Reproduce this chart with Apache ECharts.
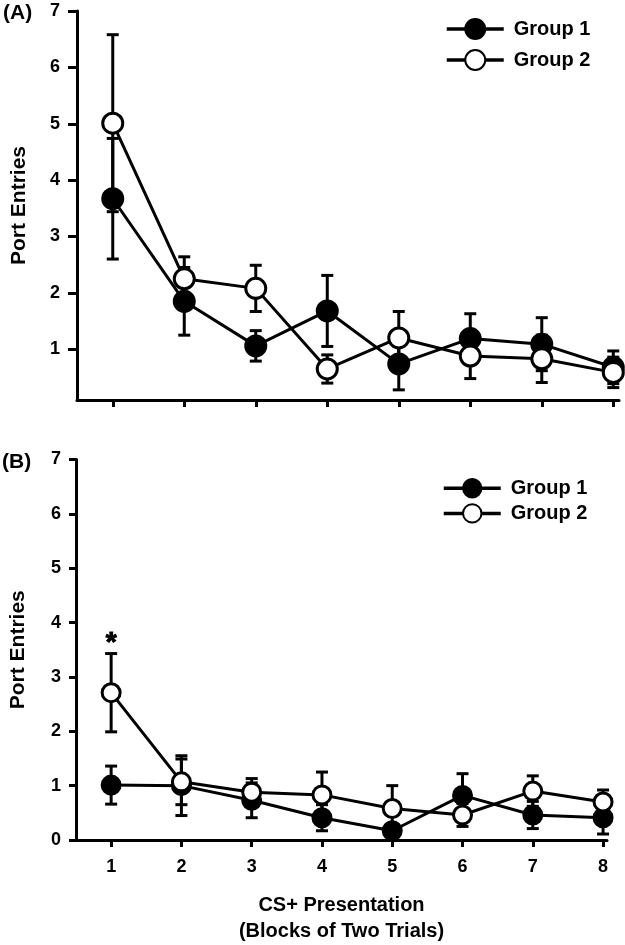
<!DOCTYPE html>
<html>
<head>
<meta charset="utf-8">
<script src="https://cdn.jsdelivr.net/npm/echarts@6/dist/echarts.min.js"></script>
<style>
html,body{margin:0;padding:0;background:#fff;}
#chart{width:625px;height:945px;}
</style>
</head>
<body>
<div id="chart"></div>
<script>
// ---------- data ----------
const categories = [1, 2, 3, 4, 5, 6, 7, 8];
const yTicksA = [1, 2, 3, 4, 5, 6, 7];
const yTicksB = [0, 1, 2, 3, 4, 5, 6, 7];
const seriesNames = ['Group 1', 'Group 2'];

// Panel A
const a_g1 = [3.67, 1.85, 1.06, 1.68, 0.74, 1.19, 1.09, 0.68];
const a_g1_err = [1.07, 0.60, 0.27, 0.63, 0.46, 0.44, 0.47, 0.29];
const a_g2 = [5.01, 2.25, 2.08, 0.65, 1.20, 0.88, 0.83, 0.59];
const a_g2_err = [1.57, 0.39, 0.41, 0.25, 0.47, 0.40, 0.42, 0.27];

// Panel B
const b_g1 = [1.01, 1.00, 0.73, 0.41, 0.17, 0.82, 0.46, 0.41];
const b_g1_err = [0.35, 0.55, 0.32, 0.24, 0.12, 0.40, 0.25, 0.30];
const b_g2 = [2.71, 1.07, 0.88, 0.83, 0.58, 0.46, 0.90, 0.70];
const b_g2_err = [0.72, 0.42, 0.25, 0.42, 0.42, 0.21, 0.28, 0.22];

// significance annotation (panel B): [category, value, text]
const annotationsB = [[1, 3.83, '*']];

// ---------- chart ----------
const FONT = 'Liberation Sans';
const chart = echarts.init(document.getElementById('chart'), null, {renderer: 'canvas'});

function pairs(vals) { return vals.map((v, i) => [categories[i], v]); }
function errData(vals, errs) { return vals.map((v, i) => [categories[i], v, errs[i]]); }

function renderErr(params, api) {
  const x = api.value(0), y = api.value(1), e = api.value(2);
  const hi = api.coord([x, y + e]);
  const lo = api.coord([x, y - e]);
  const w = 6;
  const st = {stroke: '#000', lineWidth: 3};
  return {
    type: 'group',
    children: [
      {type: 'line', shape: {x1: hi[0], y1: hi[1], x2: lo[0], y2: lo[1]}, style: st},
      {type: 'line', shape: {x1: hi[0] - w, y1: hi[1], x2: hi[0] + w, y2: hi[1]}, style: st},
      {type: 'line', shape: {x1: lo[0] - w, y1: lo[1], x2: lo[0] + w, y2: lo[1]}, style: st}
    ]
  };
}

const axisLineStyle = {lineStyle: {color: '#000', width: 3}};
const labelFont = {color: '#000', fontFamily: FONT, fontWeight: 'bold', fontSize: 18};

function errSeries(vals, errs, idx) {
  return {
    type: 'custom', xAxisIndex: idx, yAxisIndex: idx,
    data: errData(vals, errs), renderItem: renderErr, z: 1, clip: false,
    silent: true, legendHoverLink: false
  };
}
function lineSeries(name, vals, idx, filled, size) {
  return {
    name: name, type: 'line', xAxisIndex: idx, yAxisIndex: idx,
    data: pairs(vals), symbol: 'circle', symbolSize: size, clip: false,
    lineStyle: {color: '#000', width: 3},
    itemStyle: {color: filled ? '#000' : '#fff', borderColor: '#000', borderWidth: 3},
    z: filled ? 2 : 3, animation: false
  };
}

const legendText = {color: '#000', fontFamily: FONT, fontWeight: 'bold', fontSize: 20, padding: [0, 0, 0, 5]};

const option = {
  animation: false,
  backgroundColor: '#fff',
  textStyle: {fontFamily: FONT},
  graphic: [
    {type: 'text', left: 3, top: 3, style: {text: '(A)', font: 'bold 21px "Liberation Sans"', fill: '#000'}},
    {type: 'text', left: 2, top: 452, style: {text: '(B)', font: 'bold 21px "Liberation Sans"', fill: '#000'}}
  ],
  legend: [
    {
      data: seriesNames.map(n => ({name: n})), orient: 'vertical', left: 440, top: 13,
      itemWidth: 57, itemHeight: 25, itemGap: 9,
      lineStyle: {color: '#000', width: 3.5},
      textStyle: legendText, selectedMode: false
    },
    {
      data: seriesNames.map(n => ({name: n})), orient: 'vertical', left: 437, top: 473,
      itemWidth: 57, itemHeight: 23, itemGap: 4.8,
      lineStyle: {color: '#000', width: 3.5},
      textStyle: legendText, selectedMode: false
    }
  ],
  grid: [
    {left: 77, right: 6, top: 11, bottom: 545, containLabel: false},
    {left: 67, right: 18, top: 459.5, bottom: 97, containLabel: false}
  ],
  xAxis: [
    {
      gridIndex: 0, type: 'value', min: 0.5, max: 8.08,
      axisLine: axisLineStyle,
      axisTick: {show: true, length: 7, lineStyle: {color: '#000', width: 3}, customValues: categories},
      axisLabel: {show: false, customValues: categories},
      splitLine: {show: false}
    },
    {
      gridIndex: 1, type: 'value', min: 0.5, max: 8.056,
      axisLine: axisLineStyle,
      axisTick: {show: true, length: 7, lineStyle: {color: '#000', width: 3}, customValues: categories},
      axisLabel: Object.assign({margin: 18, customValues: categories,
        formatter: v => String(categories[categories.indexOf(Math.round(v))])}, labelFont),
      splitLine: {show: false},
      name: 'CS+ Presentation\n(Blocks of Two Trials)', nameLocation: 'middle', nameGap: 52,
      nameTextStyle: {color: '#000', fontFamily: FONT, fontWeight: 'bold', fontSize: 20, lineHeight: 26, verticalAlign: 'top'}
    }
  ],
  yAxis: [
    {
      gridIndex: 0, type: 'value', min: 0.1, max: 7,
      axisLine: axisLineStyle,
      axisTick: {show: true, length: 9, lineStyle: {color: '#000', width: 3}, customValues: yTicksA},
      axisLabel: Object.assign({margin: 17, customValues: yTicksA}, labelFont),
      splitLine: {show: false},
      name: 'Port Entries', nameLocation: 'middle', nameGap: 47, nameRotate: 90,
      nameTextStyle: {color: '#000', fontFamily: FONT, fontWeight: 'bold', fontSize: 21}
    },
    {
      gridIndex: 1, type: 'value', min: 0, max: 7,
      axisLine: axisLineStyle,
      axisTick: {show: true, length: 7, lineStyle: {color: '#000', width: 3}, customValues: yTicksB},
      axisLabel: Object.assign({margin: 15, customValues: yTicksB}, labelFont),
      splitLine: {show: false},
      name: 'Port Entries', nameLocation: 'middle', nameGap: 47, nameRotate: 90,
      nameTextStyle: {color: '#000', fontFamily: FONT, fontWeight: 'bold', fontSize: 21}
    }
  ],
  series: [
    errSeries(a_g1, a_g1_err, 0),
    errSeries(a_g2, a_g2_err, 0),
    lineSeries(seriesNames[0], a_g1, 0, true, 20),
    lineSeries(seriesNames[1], a_g2, 0, false, 20),
    errSeries(b_g1, b_g1_err, 1),
    errSeries(b_g2, b_g2_err, 1),
    lineSeries(seriesNames[0], b_g1, 1, true, 18),
    lineSeries(seriesNames[1], b_g2, 1, false, 18),
    {
      type: 'scatter', xAxisIndex: 1, yAxisIndex: 1, symbol: 'circle', symbolSize: 2,
      itemStyle: {color: 'rgba(0,0,0,0)'},
      data: annotationsB.map(a => ({value: [a[0], a[1]], label: {formatter: a[2]}})),
      label: {show: true, position: 'inside', color: '#000', fontFamily: FONT, fontWeight: 'bold', fontSize: 28,
        offset: [0, 11], textBorderColor: '#000', textBorderWidth: 1, opacity: 1},
      emphasis: {disabled: true},
      silent: true, z: 4, clip: false
    }
  ]
};
chart.setOption(option);
</script>
</body>
</html>
